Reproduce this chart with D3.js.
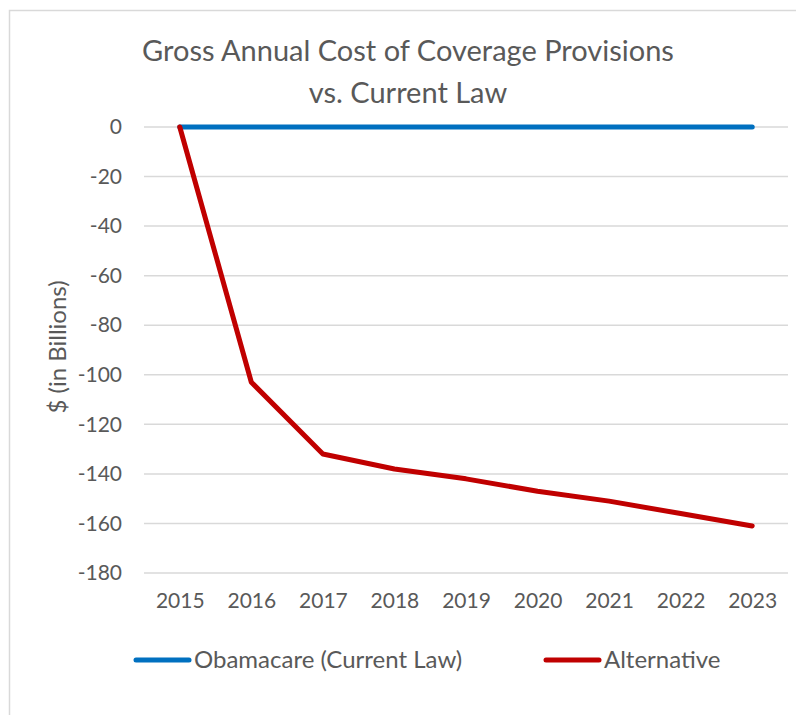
<!doctype html>
<html lang="en">
<head>
<meta charset="UTF-8">
<title>Gross Annual Cost of Coverage Provisions vs. Current Law</title>
<style>
  body { margin: 0; background: #fff; }
  svg { display: block; font-family: Lato, "Open Sans", sans-serif; }
  .grid line { stroke: #d9d9d9; stroke-width: 1.5px; }
  .tick text { fill: #595959; }
  .series { fill: none; stroke-width: 5px; stroke-linejoin: round; stroke-linecap: round; }
</style>
</head>
<body>
<svg id="chart" width="796" height="715"></svg>
<script src="https://cdn.jsdelivr.net/npm/d3@7/dist/d3.min.js"></script>
<script>
// data
const years = ["2015", "2016", "2017", "2018", "2019", "2020", "2021", "2022", "2023"];
const obamacare = [0, 0, 0, 0, 0, 0, 0, 0, 0];
const alternative = [0, -103, -132, -138, -142, -147, -151, -156, -161];
const yTicks = [0, -20, -40, -60, -80, -100, -120, -140, -160, -180];
const seriesNames = ["Obamacare (Current Law)", "Alternative"];
const seriesColors = ["#0070c0", "#c00000"];

const svg = d3.select("#chart");
const W = 796, H = 715;
const plot = { left: 144, right: 788, top: 127, bottom: 573 };

// chart frame
svg.append("rect")
  .attr("x", 9.5).attr("y", 10.5)
  .attr("width", W + 10).attr("height", H + 10)
  .attr("fill", "#fff").attr("stroke", "#d9d9d9").attr("stroke-width", 1.5);

const x = d3.scalePoint().domain(years).range([plot.left, plot.right]).padding(0.5);
const y = d3.scaleLinear().domain([-180, 0]).range([plot.bottom, plot.top]);

// gridlines
svg.append("g").attr("class", "grid")
  .selectAll("line").data(yTicks).join("line")
  .attr("x1", plot.left).attr("x2", plot.right)
  .attr("y1", d => y(d)).attr("y2", d => y(d));

// y axis labels
const yAxis = svg.append("g")
  .attr("transform", `translate(${plot.left},0)`)
  .call(d3.axisLeft(y).tickValues(yTicks).tickSize(0).tickPadding(22).tickFormat(d => d === 0 ? "0" : "-" + Math.abs(d)));
yAxis.select(".domain").remove();
yAxis.selectAll("text").attr("font-size", 21).attr("font-family", "Lato");

// x axis labels
const xAxis = svg.append("g")
  .attr("transform", `translate(0,${plot.bottom})`)
  .call(d3.axisBottom(x).tickSize(0).tickPadding(20));
xAxis.select(".domain").remove();
xAxis.selectAll("text").attr("font-size", 21).attr("font-family", "Lato");

// lines
const line = d3.line().x((d, i) => x(years[i])).y(d => y(d));
[obamacare, alternative].forEach((vals, k) => {
  svg.append("path").attr("class", "series")
    .attr("stroke", seriesColors[k])
    .attr("d", line(vals));
});

// title
const title = svg.append("text")
  .attr("text-anchor", "middle").attr("fill", "#595959")
  .attr("font-size", 29);
title.append("tspan").attr("x", 408).attr("y", 61).text("Gross Annual Cost of Coverage Provisions");
title.append("tspan").attr("x", 408).attr("y", 103).text("vs. Current Law");

// y axis title
svg.append("text")
  .attr("transform", `translate(66,347) rotate(-90)`)
  .attr("text-anchor", "middle").attr("fill", "#595959")
  .attr("font-size", 24)
  .text("$ (in Billions)");

// legend
const legendX = [136, 546];
const legend = svg.append("g").selectAll("g").data(seriesNames).join("g")
  .attr("transform", (d, i) => `translate(${legendX[i]},660)`);
legend.append("line")
  .attr("x1", 0).attr("x2", 53).attr("y1", 0).attr("y2", 0)
  .attr("stroke", (d, i) => seriesColors[i]).attr("stroke-width", 5)
  .attr("stroke-linecap", "round");
legend.append("text")
  .attr("x", 58).attr("y", 8)
  .attr("fill", "#595959").attr("font-size", 24)
  .text(d => d);
</script>
</body>
</html>
